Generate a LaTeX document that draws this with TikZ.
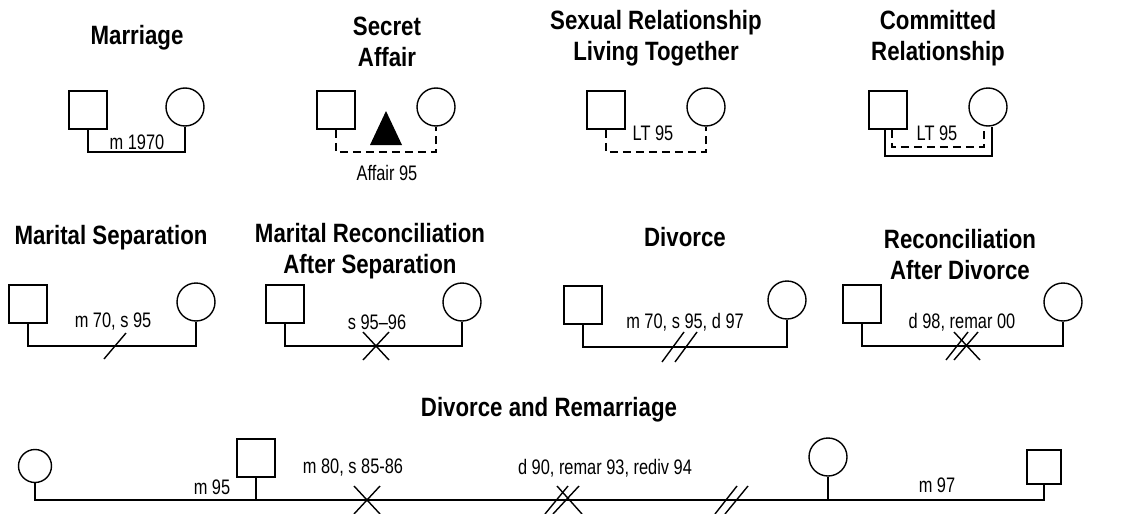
\documentclass[tikz,border=0pt]{standalone}
\usepackage{fontspec}
\usepackage{tikz}
\newfontfamily\titlefont[Ligatures=TeX, FakeStretch=0.84]{Liberation Sans}
\newfontfamily\labelfont[Ligatures=TeX, FakeStretch=0.78]{Liberation Sans}

\tikzset{
    titolo/.style={font=\titlefont\bfseries\fontsize{26.5}{31}\selectfont, align=center, inner sep=0pt},
    etichetta/.style={font=\labelfont\fontsize{21}{24}\selectfont, inner sep=0pt},
    maschio/.style={draw, line width=1.7pt, minimum size=38pt, inner sep=0pt},
    femmina/.style={draw, circle, line width=1.4pt, minimum size=38pt, inner sep=0pt},
    legame/.style={line width=1.7pt},
    segreto/.style={line width=1.4pt, dash pattern=on 8pt off 5pt},
    segno/.style={line width=1.4pt}
}

\begin{document}
\begin{tikzpicture}[x=1pt, y=-1pt]
            \useasboundingbox (0,0) rectangle (1130,514);

            % Matrimonio
            \node[titolo] (t1) at (137,38) {Marriage};
            \node[maschio] (h1) at (88,110) {};
            \node[femmina] (w1) at (185,107) {};
            \coordinate (b1) at (137,152);
            \draw[legame] (h1.south) |- (b1) -| (w1.south);
            \node[etichetta] (l1) at (137,142) {m 1970};

            % Relazione segreta
            \node[titolo] (t2) at (387,42) {Secret\\Affair};
            \node[maschio] (h2) at (336,110) {};
            \node[femmina] (w2) at (436,107) {};
            \coordinate (b2) at (386,152);
            \draw[segreto] (h2.south) |- (b2) -| (w2.south);
            \fill (370,145) -- (386,111) -- (402,145) -- cycle;
            \node[etichetta] (l2) at (387,173) {Affair 95};

            % Convivenza
            \node[titolo] (t3) at (656,38) {Sexual Relationship\\Living Together};
            \node[maschio] (h3) at (606,110) {};
            \node[femmina] (w3) at (706,107) {};
            \coordinate (b3) at (656,152);
            \draw[segreto] (h3.south) |- (b3) -| (w3.south);
            \node[etichetta] (l3) at (653,133) {LT 95};

            % Relazione impegnata
            \node[titolo] (t4) at (938,38) {Committed\\Relationship};
            \node[maschio] (h4) at (888,110) {};
            \node[femmina] (w4) at (988,107) {};
            \coordinate (b4) at (938,156);
            \coordinate (c4) at (938,147);
            \draw[legame] ([xshift=-3pt]h4.south) |- (b4) -| ([xshift=4pt]w4.south);
            \draw[segreto] ([xshift=4pt]h4.south) |- (c4) -| ([xshift=-4pt]w4.south);
            \node[etichetta] (l4) at (937,133) {LT 95};

            % Separazione
            \node[titolo] (t5) at (111,238) {Marital Separation};
            \node[maschio] (h5) at (28,304) {};
            \node[femmina] (w5) at (196,302) {};
            \coordinate (b5) at (115,346);
            \draw[legame] (h5.south) |- (b5) -| (w5.south);
            \draw[segno, shift={(b5)}] (-11,13) -- (11,-13);
            \node[etichetta] (l5) at (113,322) {m 70, s 95};

            % Riconciliazione dopo separazione
            \node[titolo] (t6) at (370,251) {Marital Reconciliation\\After Separation};
            \node[maschio] (h6) at (285,304) {};
            \node[femmina] (w6) at (462,302) {};
            \coordinate (b6) at (376,346);
            \draw[legame] (h6.south) |- (b6) -| (w6.south);
            \draw[segno, shift={(b6)}] (-13,14) -- (13,-14);
            \draw[segno, shift={(b6)}] (-13,-14) -- (13,14);
            \node[etichetta] (l6) at (377,322) {s 95--96};

            % Divorzio
            \node[titolo] (t7) at (685,237) {Divorce};
            \node[maschio] (h7) at (583,305) {};
            \node[femmina] (w7) at (787,300) {};
            \coordinate (b7) at (680,347);
            \draw[legame] (h7.south) |- (b7) -| (w7.south);
            \draw[segno, shift={(b7)}] (-18,15) -- (4,-15);
            \draw[segno, shift={(b7)}] (-5,15) -- (17,-15);
            \node[etichetta] (l7) at (685,322) {m 70, s 95, d 97};

            % Riconciliazione dopo divorzio
            \node[titolo] (t8) at (960,255) {Reconciliation\\After Divorce};
            \node[maschio] (h8) at (862,304) {};
            \node[femmina] (w8) at (1063,302) {};
            \coordinate (b8) at (962,346);
            \draw[legame] (h8.south) |- (b8) -| (w8.south);
            \draw[segno, shift={(b8)}] (-16,14) -- (6,-14);
            \draw[segno, shift={(b8)}] (-8,14) -- (16,-14);
            \draw[segno, shift={(b8)}] (-8,-14) -- (18,14);
            \node[etichetta] (l8) at (962,322) {d 98, remar 00};

            % Divorzio e nuovo matrimonio
            \node[titolo] (t9) at (549,410) {Divorce and Remarriage};
            \node[femmina, minimum size=33pt] (w9a) at (35,466) {};
            \node[maschio] (h9a) at (256,458) {};
            \node[femmina] (w9b) at (828,457) {};
            \node[maschio, minimum size=34pt] (h9b) at (1044,467) {};
            \coordinate (b9) at (540,500);
            \draw[legame] (w9a.south) |- (b9) -| (h9b.south);
            \draw[legame] (h9a.south) -- (h9a.south |- b9);
            \draw[legame] (w9b.south) -- (w9b.south |- b9);

            \draw[segno, shift={(367,500)}] (-13,14) -- (13,-14);
            \draw[segno, shift={(367,500)}] (-13,-14) -- (13,14);

            \draw[segno, shift={(562,500)}] (-17,14) -- (6,-14);
            \draw[segno, shift={(562,500)}] (-9,14) -- (17,-14);
            \draw[segno, shift={(562,500)}] (-5,-14) -- (20,14);

            \draw[segno, shift={(731,500)}] (-16,14) -- (6,-14);
            \draw[segno, shift={(731,500)}] (-6,14) -- (17,-14);

            \node[etichetta] (l9a) at (212,487) {m 95};
            \node[etichetta] (l9b) at (353,468) {m 80, s 85-86};
            \node[etichetta] (l9c) at (605,468) {d 90, remar 93, rediv 94};
            \node[etichetta] (l9d) at (937,485) {m 97};
\end{tikzpicture}
\end{document}
